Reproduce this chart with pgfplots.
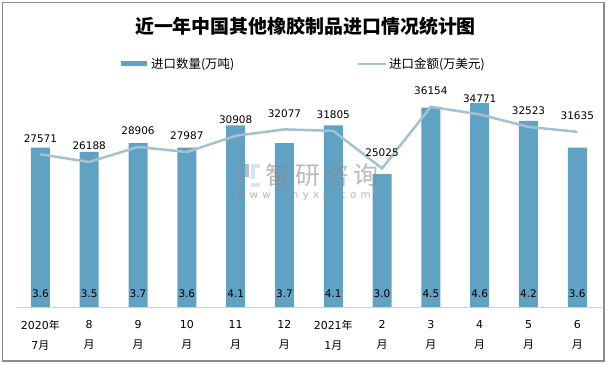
\documentclass[border=0pt]{standalone}
\usepackage{pgfplots}
\usepackage{pgfplotstable}
\pgfplotsset{compat=1.18}
\usepackage{fontspec}
\setmainfont{DejaVu Sans}
\newfontfamily\cjk{Noto Sans CJK SC}
\definecolor{barc}{HTML}{60A2C3}
\definecolor{linec}{HTML}{A3C1CF}
\definecolor{framec}{HTML}{8C8C8C}
\definecolor{logod}{HTML}{7D95B2}
\definecolor{logol}{HTML}{B8D6EC}
\pgfplotstableread{
x qty val
0 3.6 27571
1 3.5 26188
2 3.7 28906
3 3.6 27987
4 4.1 30908
5 3.7 32077
6 4.1 31805
7 3.0 25025
8 4.5 36154
9 4.6 34771
10 4.2 32523
11 3.6 31635
}\data
\pgfplotsset{/pgf/number format/assume math mode=true}
\newcommand\wsp{\hspace{4bp}}
\begin{document}
\begin{tikzpicture}
\path[use as bounding box] (0bp,0bp) rectangle (613bp,365bp);
\draw[framec, line width=1.2bp] (2.7bp,4bp) rectangle (604bp,362.3bp);
\node[font=\cjk\bfseries\fontsize{19}{22}\selectfont] at (305.5bp,339bp) {近一年中国其他橡胶制品进口情况统计图};
% legend
\fill[barc] (121bp,298.5bp) rectangle (147bp,303.5bp);
\node[anchor=west, inner sep=0pt, font=\cjk\fontsize{12.5}{14}\selectfont] at (151bp,301bp) {进口数量(万吨)};
\draw[linec, line width=2.5bp] (358bp,301bp) -- (386bp,301bp);
\node[anchor=west, inner sep=0pt, font=\cjk\fontsize{12.5}{14}\selectfont] at (389bp,301bp) {进口金额(万美元)};
\begin{axis}[
  at={(16bp,58bp)}, anchor=south west,
  scale only axis, width=585.7bp, height=221.5bp,
  xmin=-0.5, xmax=11.5, ymin=0, ymax=5,
  axis x line*=bottom, axis y line=none,
  x axis line style={draw=black!18, line width=0.8bp, -},
  major tick length=0pt,
  xtick=data,
  xticklabels={{2020{\cjk 年}\\7{\cjk 月}},{8\\{\cjk 月}},{9\\{\cjk 月}},{10\\{\cjk 月}},{11\\{\cjk 月}},{12\\{\cjk 月}},{2021{\cjk 年}\\1{\cjk 月}},{2\\{\cjk 月}},{3\\{\cjk 月}},{4\\{\cjk 月}},{5\\{\cjk 月}},{6\\{\cjk 月}}},
  xticklabel style={font=\fontsize{11}{20}\selectfont, align=center, inner sep=0pt, yshift=-13bp},
  clip=false,
]
\addplot[ybar, bar width=19bp, fill=barc, draw=none] table[x=x, y=qty] {\data};
\addplot[draw=none, mark=none, forget plot, point meta=\thisrow{qty},
  nodes near coords={\pgfmathprintnumber[fixed,fixed zerofill,precision=1]{\pgfplotspointmeta}},
  every node near coord/.style={anchor=center, yshift=13bp, font=\fontsize{10.5}{12}\selectfont, text=black}]
  table[x=x, y expr=0] {\data};
\end{axis}
\begin{axis}[
  at={(16bp,58bp)}, anchor=south west,
  scale only axis, width=585.7bp, height=221.5bp,
  xmin=-0.5, xmax=11.5, ymin=0, ymax=40000,
  axis lines=none, clip=false,
]
\addplot[linec, line width=2.5bp, mark=none, point meta=\thisrow{val},
  nodes near coords={\pgfmathprintnumber[fixed,precision=0,1000 sep={}]{\pgfplotspointmeta}},
  every node near coord/.style={anchor=center, yshift=16bp, font=\fontsize{10.5}{12}\selectfont, text=black}]
  table[x=x, y=val] {\data};
\end{axis}
% watermark
\begin{scope}[opacity=0.6]
\fill[logod] (237bp,178bp) rectangle (241bp,201bp);
\fill[logod] (241bp,197bp) rectangle (249bp,201bp);
\fill[logod] (241bp,188bp) rectangle (249bp,192bp);
\fill[logod] (245bp,192bp) rectangle (249bp,197bp);
\fill[logol] (251bp,178bp) rectangle (260bp,182bp);
\fill[logol] (251bp,186bp) rectangle (255bp,201bp);
\fill[logol] (255bp,197bp) rectangle (260bp,201bp);
\end{scope}
\node[font=\cjk\fontsize{25}{28}\selectfont, text=black!45, opacity=0.6] at (322bp,190bp) {智\,研\,咨\,询};
\node[font=\fontsize{10.5}{11}\selectfont, text=black!45, opacity=0.6] at (304bp,169bp) {w\wsp w\wsp w\wsp .\wsp c\wsp h\wsp y\wsp x\wsp x\wsp .\wsp c\wsp o\wsp m};
\end{tikzpicture}
\end{document}
